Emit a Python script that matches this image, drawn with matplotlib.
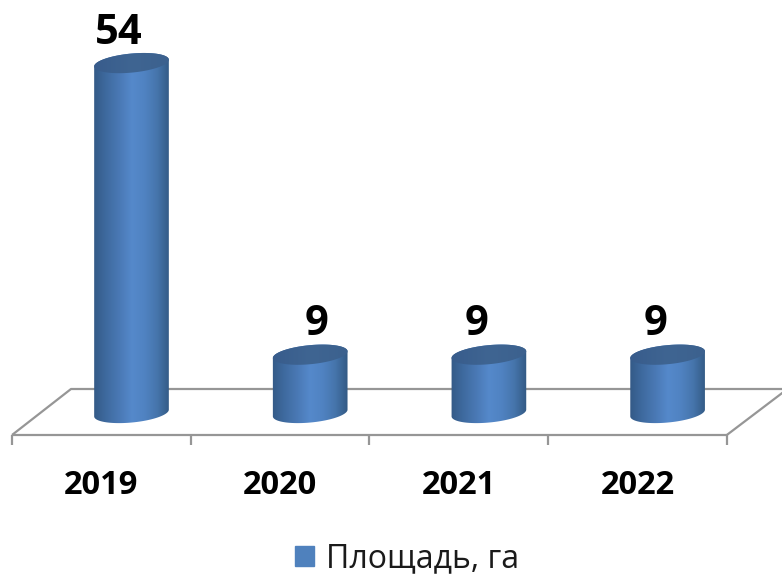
import numpy as np
import matplotlib
matplotlib.use("Agg")
import matplotlib.pyplot as plt
from matplotlib.colors import LinearSegmentedColormap
from matplotlib.patches import Patch, PathPatch
from matplotlib.path import Path

# Chart data
years = ["2019", "2020", "2021", "2022"]
area = [54, 9, 9, 9]
series_name = "Площадь, га"

plt.rcParams["font.family"] = ["Open Sans", "DejaVu Sans"]

W, H = 782, 575
X_UNIT = 178.7   # px per category
Y_UNIT = 6.48    # px per hectare
X0 = 131.5       # px of first cylinder
Y0 = 413         # px (from top) of the base of the cylinders

fig = plt.figure(figsize=(W / 100, H / 100), dpi=100)
ax = fig.add_axes([0, 0, 1, 1])
ax.set_xlim(-X0 / X_UNIT, (W - X0) / X_UNIT)
ax.set_ylim(-(H - Y0) / Y_UNIT, Y0 / Y_UNIT)
ax.axis("off")

# Sizes of the fake 3D, in px
half_w = 37.5
half_h = 9.5
tilt = np.radians(5.5)
floor_front = -22 / Y_UNIT
floor_back = 24 / Y_UNIT
floor_dx = 59 / X_UNIT

body_cmap = LinearSegmentedColormap.from_list(
    "body", ["#345a87", "#3f6ba0", "#4a79b5", "#5589cb", "#5083c2", "#4675ac", "#335a84"])
top_cmap = LinearSegmentedColormap.from_list("top", ["#385c8c", "#3f6592", "#3c618e"])


def ellipse(xc, yc, t):
    # tilted ellipse, result in data units
    dx = half_w * np.cos(t) * np.cos(tilt) - half_h * np.sin(t) * np.sin(tilt)
    dy = half_w * np.cos(t) * np.sin(tilt) + half_h * np.sin(t) * np.cos(tilt)
    return xc + dx / X_UNIT, yc + dy / Y_UNIT


def gradient(cmap, path, x_left, x_right, y_low, y_high, z):
    grad = np.linspace(0, 1, 128).reshape(1, -1)
    im = ax.imshow(grad, cmap=cmap, aspect="auto", zorder=z,
                   extent=[x_left, x_right, y_low, y_high], interpolation="bilinear")
    im.set_clip_path(PathPatch(path, transform=ax.transData))


# Floor of the 3D plot
left = 0 - (X0 - 12) / X_UNIT
right = left + len(years)
line = dict(color="#969696", lw=1.6, solid_capstyle="butt", zorder=1)
ax.plot([left, right], [floor_front, floor_front], **line)
ax.plot([left, left + floor_dx, ax.get_xlim()[1]], [floor_front, floor_back, floor_back], **line)
ax.plot([right, right + floor_dx * 0.97], [floor_front, floor_back - 0.4], **line)
for i in range(len(years) + 1):
    ax.plot([left + i, left + i], [floor_front, floor_front - 10 / Y_UNIT], **line)

# Cylinders
for i, v in enumerate(area):
    t_low = np.linspace(np.pi, 2 * np.pi, 60)
    t_high = np.linspace(0, np.pi, 60)
    bx, by = ellipse(i, 0, t_low)
    tx, ty = ellipse(i, v, t_high)
    pts = np.column_stack([np.r_[bx, tx], np.r_[by, ty]])
    body = Path(np.vstack([pts, pts[0]]), closed=True)
    x_l = i - half_w * 1.01 / X_UNIT
    x_r = i + half_w * 1.01 / X_UNIT
    gradient(body_cmap, body, x_l, x_r, -20 / Y_UNIT, v + 20 / Y_UNIT, 2)

    t_full = np.linspace(0, 2 * np.pi, 120)
    ex, ey = ellipse(i, v, t_full)
    lid = Path(np.column_stack([ex, ey]), closed=True)
    gradient(top_cmap, lid, x_l, x_r, v - 20 / Y_UNIT, v + 20 / Y_UNIT, 3)

    # value labels sit left of the bars, only the 2020 one is right of it
    shift = 6 if i == 1 else -12.5
    ax.annotate(str(v), (i, v), xytext=(shift, 30), textcoords="offset pixels",
                ha="center", va="center", fontsize=30, fontweight="bold",
                color="black", zorder=5)

# Category labels
for i, year in enumerate(years):
    ax.text(left + i + 0.5, (Y0 - 485) / Y_UNIT, year, ha="center", va="center",
            fontsize=23.5, fontweight="bold", color="black")

ax.legend(handles=[Patch(color="#4f81bd", label=series_name)],
          loc="center", bbox_to_anchor=(407 / W, 1 - 559 / H), frameon=False,
          fontsize=23, handlelength=0.6, handleheight=0.6, handletextpad=0.38,
          labelcolor="#1a1a1a")

# imshow can reset the limits
ax.set_xlim(-X0 / X_UNIT, (W - X0) / X_UNIT)
ax.set_ylim(-(H - Y0) / Y_UNIT, Y0 / Y_UNIT)

fig.savefig("out.png", dpi=100)
